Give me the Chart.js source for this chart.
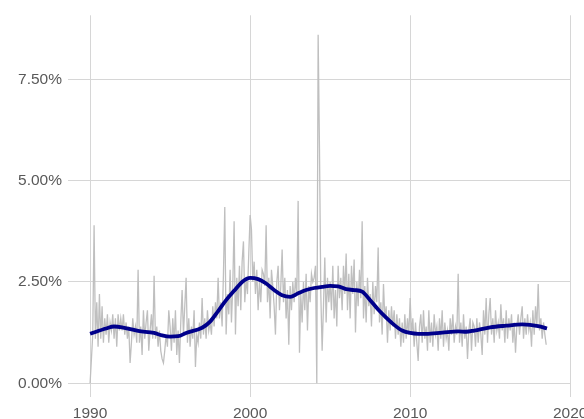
<!DOCTYPE html>
<html>
<head>
<meta charset="utf-8">
<script src="https://cdn.jsdelivr.net/npm/chart.js@4/dist/chart.umd.min.js"></script>
<style>
  html, body { margin: 0; padding: 0; overflow: hidden; background: #fff; }
  #wrap { width: 600px; height: 419px; }
</style>
</head>
<body>
<div id="wrap"><canvas id="c" width="600" height="419"></canvas></div>
<script>
// Monthly series, Jan 1990 .. Jul 2018 (percent)
const startYear = 1990;
const monthlyValues = [
  0.0, 0.6, 1.2, 3.9, 1.1, 2.0, 0.9, 2.2, 1.1, 1.9, 1.0, 1.6,   // 1990
  1.2, 1.7, 1.0, 1.5, 1.3, 1.7, 1.1, 1.6, 0.9, 1.7, 1.3, 1.6,   // 1991
  1.3, 1.7, 1.2, 1.5, 1.1, 1.4, 0.5, 1.0, 1.6, 1.2, 1.4, 1.0,   // 1992
  2.8, 1.0, 1.4, 0.7, 1.8, 1.1, 1.5, 1.8, 0.8, 1.3, 1.7, 1.1,   // 1993
  2.65, 1.1, 1.4, 0.9, 1.3, 0.8, 0.6, 0.5, 0.8, 1.2, 0.9, 1.8,  // 1994
  1.4, 0.8, 1.6, 1.0, 1.8, 0.7, 1.3, 0.5, 1.5, 2.3, 1.2, 1.9,   // 1995
  2.6, 1.0, 1.6, 0.9, 1.4, 1.1, 1.8, 0.4, 1.2, 1.0, 1.5, 1.1,   // 1996
  2.1, 1.2, 1.6, 1.1, 1.8, 1.3, 1.5, 1.2, 1.9, 1.4, 2.0, 1.6,   // 1997
  2.6, 1.6, 2.0, 1.4, 2.7, 4.35, 1.2, 2.2, 1.7, 2.8, 1.5, 2.4,  // 1998
  4.0, 1.2, 2.6, 1.9, 2.9, 1.8, 3.0, 3.5, 2.0, 2.6, 2.2, 3.2,   // 1999
  4.15, 3.8, 2.5, 3.0, 2.2, 2.8, 1.8, 2.5, 2.0, 2.8, 2.7, 2.4,  // 2000
  3.9, 2.0, 2.6, 1.6, 2.8, 2.4, 1.9, 1.2, 2.5, 2.9, 1.8, 2.4,   // 2001
  3.3, 2.0, 2.6, 1.6, 2.3, 0.95, 2.4, 1.8, 2.5, 2.0, 2.6, 2.2,  // 2002
  4.5, 0.75, 2.2, 1.5, 2.5, 1.8, 2.7, 1.3, 2.4, 2.0, 2.7, 2.5,  // 2003
  2.6, 2.9, 0.0, 8.6, 5.8, 2.2, 0.8, 1.9, 3.1, 1.5, 2.6, 2.0,   // 2004
  2.5, 1.8, 2.9, 1.6, 2.3, 1.4, 2.9, 2.1, 2.6, 1.8, 2.9, 2.2,   // 2005
  3.2, 1.8, 2.7, 1.6, 2.9, 2.2, 3.05, 1.25, 2.5, 1.9, 2.8, 2.1, // 2006
  4.0, 1.6, 2.4, 1.5, 2.6, 1.9, 2.2, 1.4, 2.5, 1.7, 2.4, 2.0,   // 2007
  3.35, 1.5, 2.0, 1.2, 2.45, 1.6, 1.9, 1.0, 1.8, 1.3, 1.9, 1.4, // 2008
  1.8, 1.1, 1.7, 1.2, 1.6, 0.9, 1.5, 1.0, 1.7, 1.1, 1.6, 1.2,   // 2009
  2.1, 1.2, 1.6, 0.9, 1.5, 1.0, 0.55, 1.4, 1.7, 1.0, 1.8, 1.1,  // 2010
  1.4, 0.8, 1.8, 1.0, 1.5, 0.9, 1.7, 1.2, 1.4, 0.8, 1.6, 1.1,   // 2011
  1.8, 0.9, 1.5, 1.1, 1.3, 0.8, 1.6, 1.2, 1.7, 1.0, 1.4, 1.2,   // 2012
  2.7, 1.0, 1.5, 0.9, 1.7, 1.1, 1.4, 0.6, 1.3, 1.6, 0.8, 1.5,   // 2013
  1.4, 0.9, 1.6, 1.0, 1.5, 1.2, 0.7, 1.8, 1.2, 2.1, 1.0, 1.7,   // 2014
  2.1, 1.2, 1.6, 1.0, 1.8, 1.3, 1.5, 1.1, 1.95, 1.3, 1.6, 1.0,  // 2015
  1.8, 1.1, 1.6, 1.3, 1.7, 1.0, 1.5, 0.75, 1.4, 1.7, 1.2, 1.6,  // 2016
  1.9, 1.1, 1.6, 1.2, 1.7, 1.3, 1.5, 0.9, 1.8, 1.2, 1.9, 1.4,   // 2017
  2.45, 1.3, 1.6, 1.1, 1.5, 1.2, 0.95                            // 2018
];

// Smoothed trend
const smoothYears = [1990, 1991, 1991.5, 1992, 1993, 1994, 1994.5, 1995, 1995.5, 1996, 1997, 1997.5, 1998, 1998.5, 1999, 1999.5, 2000, 2000.5, 2001, 2001.5, 2002, 2002.5, 2003, 2003.5, 2004, 2004.5, 2005, 2005.5, 2006, 2006.5, 2007, 2007.5, 2008, 2008.5, 2009, 2009.5, 2010, 2010.5, 2011, 2012, 2013, 2013.5, 2014, 2015, 2016, 2017, 2018, 2018.55];
const smoothValues = [1.22, 1.35, 1.40, 1.38, 1.29, 1.24, 1.18, 1.15, 1.16, 1.24, 1.37, 1.52, 1.78, 2.05, 2.28, 2.50, 2.60, 2.57, 2.46, 2.30, 2.17, 2.13, 2.22, 2.30, 2.35, 2.38, 2.40, 2.39, 2.32, 2.30, 2.26, 2.05, 1.82, 1.62, 1.44, 1.30, 1.24, 1.22, 1.22, 1.25, 1.28, 1.27, 1.30, 1.38, 1.42, 1.45, 1.41, 1.35];

const xTicks = [1990, 2000, 2010, 2020];
const yTicks = [0, 2.5, 5, 7.5];

const rawPoints = monthlyValues.map((v, i) => ({ x: startYear + i / 12, y: v }));
const smoothPoints = smoothYears.map((yr, i) => ({ x: yr, y: smoothValues[i] }));

const tickFont = { family: "'Liberation Sans', Arial, sans-serif", size: 15.5 };
const gridColor = '#d6d6d6';

new Chart(document.getElementById('c'), {
  type: 'line',
  data: {
    datasets: [
      {
        data: smoothPoints,
        borderColor: '#00008B',
        borderWidth: 3.8,
        pointRadius: 0,
        tension: 0.4,
        cubicInterpolationMode: 'monotone',
        fill: false,
        order: 0
      },
      {
        data: rawPoints,
        borderColor: '#bfbfbf',
        borderWidth: 1.3,
        pointRadius: 0,
        tension: 0,
        fill: false,
        order: 1
      }
    ]
  },
  options: {
    responsive: false,
    animation: false,
    devicePixelRatio: 1,
    layout: { padding: { top: 13, right: 29, left: 0, bottom: 0 } },
    plugins: { legend: { display: false }, tooltip: { enabled: false } },
    scales: {
      x: {
        type: 'linear',
        min: 1988.62,
        max: 2020.05,
        afterBuildTicks: s => { s.ticks = xTicks.map(v => ({ value: v })); },
        afterFit: s => { s.height = 22; },
        grid: { color: gridColor, lineWidth: 1, drawTicks: false },
        border: { display: false },
        ticks: { color: '#595959', font: tickFont, padding: 7, maxRotation: 0, autoSkip: false, callback: v => String(v) }
      },
      y: {
        type: 'linear',
        min: -0.34,
        max: 9.08,
        afterBuildTicks: s => { s.ticks = yTicks.map(v => ({ value: v })); },
        afterFit: s => { s.width = 68; },
        grid: { color: gridColor, lineWidth: 1, drawTicks: false },
        border: { display: false },
        ticks: { color: '#595959', font: tickFont, padding: 6, autoSkip: false, callback: v => v.toFixed(2) + '%' }
      }
    }
  }
});
</script>
</body>
</html>
